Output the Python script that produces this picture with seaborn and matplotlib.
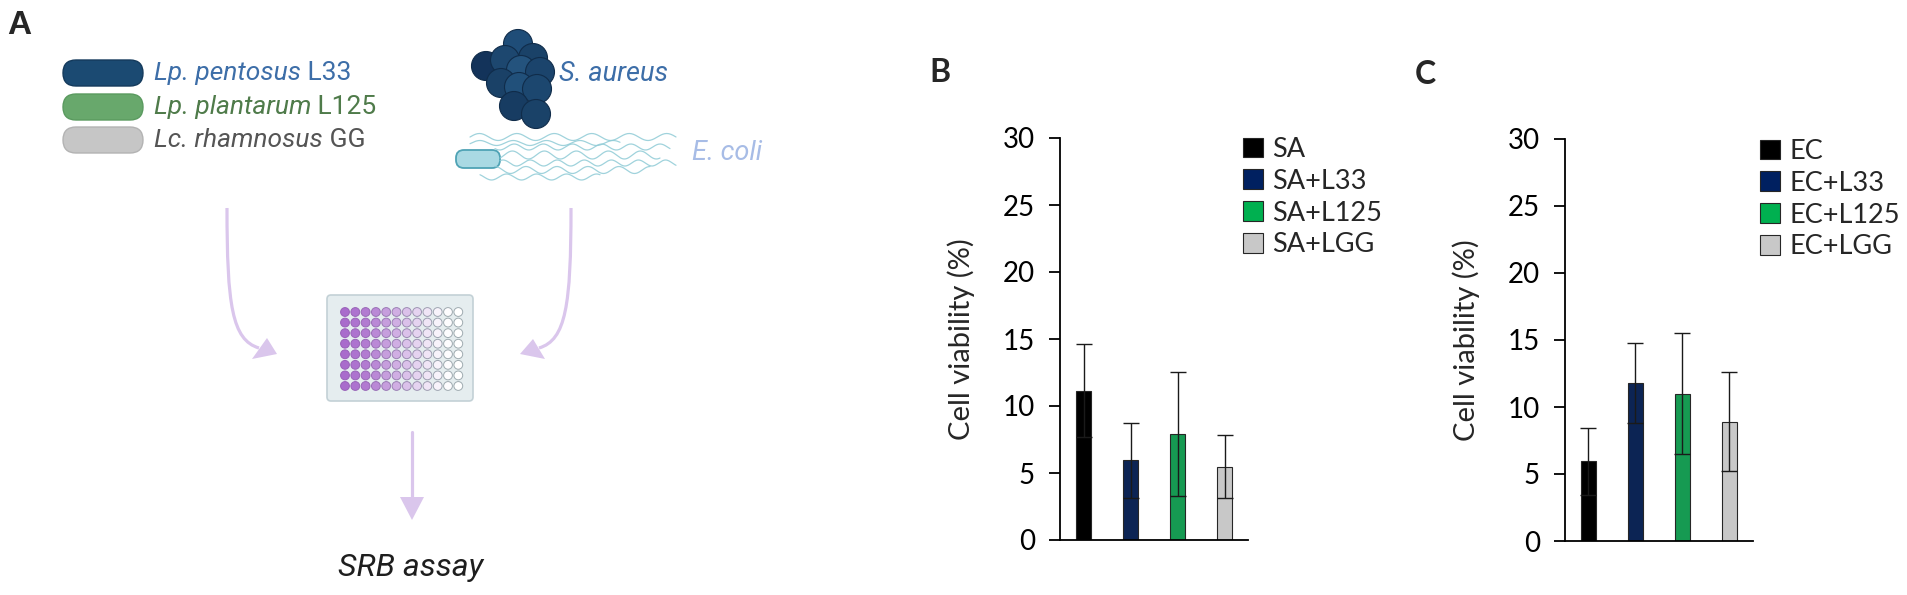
import numpy as np
import matplotlib
matplotlib.use("Agg")
import matplotlib.pyplot as plt
import seaborn as sns
from matplotlib.patches import FancyBboxPatch, Circle, Polygon, PathPatch, Patch
from matplotlib.path import Path

# data for panels B and C
groups_sa = ["SA", "SA+L33", "SA+L125", "SA+LGG"]
means_sa = [11.15, 5.95, 7.9, 5.45]
sd_sa = [3.5, 2.8, 4.65, 2.35]

groups_ec = ["EC", "EC+L33", "EC+L125", "EC+LGG"]
means_ec = [5.95, 11.8, 11.0, 8.9]
sd_ec = [2.5, 3.0, 4.5, 3.68]

bar_colors = ["#000000", "#002060", "#00b050", "#c8c8c8"]
yticks = [0, 5, 10, 15, 20, 25, 30]

sns.set_style("white")
plt.rcParams["font.family"] = ["Lato", "DejaVu Sans"]

W, H = 1908, 595
fig = plt.figure(figsize=(W / 100, H / 100), dpi=100)

# ---------- panel A: schematic, drawn in pixel coordinates ----------
ax_a = fig.add_axes([0, 0, 1, 1])
ax_a.set_xlim(0, W)
ax_a.set_ylim(H, 0)
ax_a.axis("off")

ax_a.text(19, 25, "A", fontsize=24, fontweight="bold", family="Liberation Sans",
          ha="center", va="center")

strains = [("Lp. pentosus", "L33", "#1b4a72", "#143a5c", "#3d6ea8", 73),
           ("Lp. plantarum", "L125", "#68a86c", "#5a9a5f", "#4f7b4a", 107),
           ("Lc. rhamnosus", "GG", "#c6c6c6", "#b3b3b3", "#555555", 140)]
for ital, plain, fc, ec, tc, yc in strains:
    ax_a.add_patch(FancyBboxPatch((63, yc - 13), 80, 26,
                                  boxstyle="round,pad=0,rounding_size=13",
                                  fc=fc, ec=ec, lw=1))
    t = ax_a.text(154, yc, ital, style="italic", color=tc, fontsize=19,
                  family="Roboto", ha="left", va="center")
    ax_a.annotate(" " + plain, xy=(1, 0.5), xycoords=t, color=tc, fontsize=19,
                  family="Roboto", ha="left", va="center")

# S. aureus cluster
cocci = [(518, 44), (533, 58), (486, 66), (505, 60), (521, 70), (540, 72),
         (501, 83), (519, 87), (537, 89), (514, 106), (536, 114)]
shades = ["#1f4d78", "#1a4268", "#13335a", "#1d476f", "#24537d", "#1b446c",
          "#1a4167", "#21507a", "#1c476f", "#173c62", "#1a4268"]
for (cx, cy), col in zip(cocci, shades):
    ax_a.add_patch(Circle((cx, cy), 14.5, fc=col, ec="#102c4a", lw=0.8))
ax_a.text(559, 74, "S. aureus", style="italic", color="#3d6ea8", fontsize=19.5,
          family="Roboto", ha="left", va="center")

# E. coli with flagella
xs = np.linspace(0, 1, 200)
flag = [(470, 676, -22, 3.5, 5.5), (495, 670, -12, 3.0, 6.0), (500, 660, -4, 4.0, 5.0),
        (500, 676, 4, 3.0, 6.5), (495, 650, 11, 3.5, 5.0), (480, 600, 18, 3.0, 4.0),
        (470, 620, -16, 2.5, 4.5)]
for x0, x1, off, amp, nw in flag:
    fx = x0 + (x1 - x0) * xs
    fy = 159 + off + amp * np.sin(2 * np.pi * nw * xs + off)
    ax_a.plot(fx, fy, color="#8fcbd6", lw=0.9, alpha=0.85)
ax_a.add_patch(FancyBboxPatch((456, 150), 44, 18, boxstyle="round,pad=0,rounding_size=8",
                              fc="#a9d9e3", ec="#4fa3b5", lw=1.3))
ax_a.text(762, 153, "E. coli", style="italic", color="#a7bce6", fontsize=19.5,
          family="Roboto", ha="right", va="center")

# arrows
arrow_col = "#dac6ec"
for verts, head in [([(227, 208), (227, 305), (232, 340), (259, 348)],
                     [(277, 354), (252, 359), (267, 338)]),
                    ([(571, 208), (571, 305), (566, 340), (539, 348)],
                     [(520, 354), (533, 339), (545, 359)])]:
    ax_a.add_patch(PathPatch(Path(verts, [Path.MOVETO, Path.CURVE4, Path.CURVE4, Path.CURVE4]),
                             fc="none", ec=arrow_col, lw=2.3))
    ax_a.add_patch(Polygon(head, closed=True, fc=arrow_col, ec="none"))
ax_a.plot([412, 412], [432, 498], color=arrow_col, lw=2.3)
ax_a.add_patch(Polygon([(400, 497), (424, 497), (412, 520)], closed=True, fc=arrow_col, ec="none"))

# 96-well plate
ax_a.add_patch(FancyBboxPatch((327, 295), 146, 106, boxstyle="round,pad=0,rounding_size=4",
                              fc="#e5edef", ec="#c3d1d6", lw=1.2))
purple = np.array(matplotlib.colors.to_rgb("#a96ccc"))
white = np.ones(3)
rim = np.array(matplotlib.colors.to_rgb("#9fabb0"))
level = [1.0, 0.95, 0.9, 0.8, 0.66, 0.55, 0.42, 0.3, 0.18, 0.08, 0.02, 0.0]
for ci, lv in enumerate(level):
    for ri in range(8):
        fc = white * (1 - lv) + purple * lv
        ec = rim * (1 - lv) + purple * 0.9 * lv
        ax_a.add_patch(Circle((345 + ci * 10.3, 312 + ri * 10.57), 4.4, fc=fc, ec=ec, lw=0.7))

ax_a.text(411, 567, "SRB assay", style="italic", color="#1e1e1e", fontsize=23,
          family="Roboto", ha="center", va="center")

# ---------- panels B and C ----------
def bar_panel(left_px, bottom_px, groups, means, sds, leg_xy, letter, letter_xy):
    ax = fig.add_axes([left_px / W, (H - bottom_px) / H, 188 / W, 402 / H])
    ax.set_facecolor("none")
    sns.barplot(x=groups, y=means, hue=groups, palette=bar_colors, width=0.32,
                edgecolor="#262626", linewidth=0.8, legend=False, ax=ax)
    ax.errorbar(x=np.arange(len(groups)), y=means, yerr=sds, fmt="none",
                ecolor="#1a1a1a", elinewidth=1.0, capsize=5.5, capthick=1.0)
    ax.set_xlim(-0.5, 3.5)
    ax.set_ylim(0, 30)
    ax.set_yticks(yticks)
    ax.set_xticks([])
    ax.set_xlabel("")
    sns.despine(ax=ax)
    for s in ("left", "bottom"):
        ax.spines[s].set_linewidth(1.3)
        ax.spines[s].set_color("black")
    ax.tick_params(axis="y", left=True, direction="out", length=8, width=1.3,
                   labelsize=20, pad=10, colors="black")
    ax.set_ylabel("Cell viability (%)", fontsize=21)
    ax.yaxis.set_label_coords(-0.45, 0.5)
    handles = [Patch(fc=c, ec="#262626", lw=0.8) for c in bar_colors]
    ax.legend(handles, groups, loc="upper left", bbox_to_anchor=leg_xy,
              bbox_transform=fig.transFigure, frameon=False, fontsize=19.5,
              handlelength=0.74, handleheight=0.74, handletextpad=0.35,
              labelspacing=0.25, borderpad=0, borderaxespad=0)
    fig.text(letter_xy[0] / W, 1 - letter_xy[1] / H, letter, fontsize=23,
             fontweight="bold", ha="center", va="center")
    return ax

bar_panel(1060, 540, groups_sa, means_sa, sd_sa, (1243 / W, 1 - 137 / H), "B", (940, 73))
bar_panel(1565, 541, groups_ec, means_ec, sd_ec, (1760 / W, 1 - 139 / H), "C", (1425, 74))

fig.savefig("out.png", dpi=100)
